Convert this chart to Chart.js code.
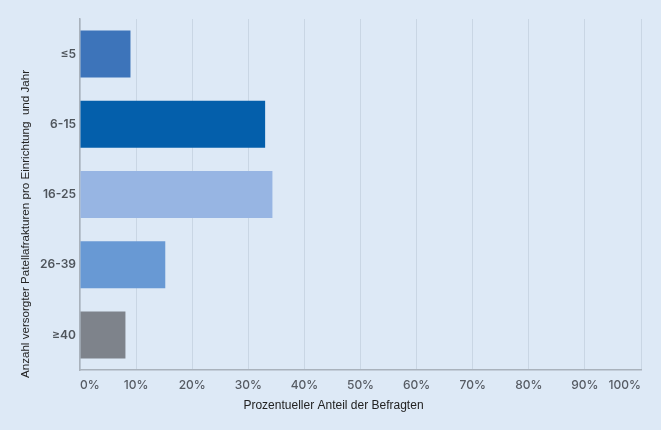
<!DOCTYPE html>
<html>
<head>
<meta charset="utf-8">
<script src="https://cdn.jsdelivr.net/npm/chart.js@4"></script>
<style>
  html, body { margin: 0; padding: 0; background: #dde9f6; }
  #wrap { width: 661px; height: 430px; position: relative; }
</style>
</head>
<body>
<div id="wrap"><canvas id="c" width="661" height="430"></canvas></div>
<script>
const categories = ["≤5", "6-15", "16-25", "26-39", "≥40"];
const shares = [9, 33, 34.3, 15.2, 8.1];
const barColors = ["#3d74ba", "#045fab", "#97b5e3", "#6899d4", "#7e838b"];
const xTickValues = [0, 10, 20, 30, 40, 50, 60, 70, 80, 90, 100];
const xTitle = "Prozentueller Anteil der Befragten";
const yTitle = "Anzahl versorgter Patellafrakturen pro Einrichtung  und Jahr";

const axisTitles = {
  id: 'axisTitles',
  afterDraw(chart) {
    const ctx = chart.ctx;
    const area = chart.chartArea;
    ctx.save();
    ctx.fillStyle = '#222';
    ctx.textAlign = 'center';
    ctx.textBaseline = 'middle';
    ctx.font = '12px "Liberation Sans", Arial, sans-serif';
    ctx.fillText(xTitle, chart.width / 2 + 3, area.bottom + 36);
    ctx.font = '11.6px "Liberation Sans", Arial, sans-serif';
    ctx.translate(26, chart.height / 2 + 9);
    ctx.rotate(-Math.PI / 2);
    ctx.fillText(yTitle, 0, 0);
    ctx.restore();
  }
};

new Chart(document.getElementById('c'), {
  type: 'bar',
  data: {
    labels: categories,
    datasets: [{
      data: shares,
      backgroundColor: barColors,
      borderWidth: 0,
      barPercentage: 0.67,
      categoryPercentage: 1
    }]
  },
  options: {
    indexAxis: 'y',
    responsive: false,
    animation: false,
    layout: { padding: { top: 19, right: 20, left: 0, bottom: 0 } },
    plugins: { legend: { display: false }, tooltip: { enabled: false } },
    scales: {
      x: {
        min: 0, max: 100,
        afterBuildTicks(scale) { scale.ticks = xTickValues.map(v => ({ value: v })); },
        afterFit(scale) { scale.height = 60; },
        grid: { color: '#c9d6e4', lineWidth: 1, drawTicks: false },
        border: { display: true, color: '#a9b2bc', width: 1.5 },
        ticks: {
          align: 'inner',
          padding: 8,
          color: '#565b63',
          font: { family: 'Inter', size: 12, weight: '500' },
          callback: v => v + '%'
        }
      },
      y: {
        afterFit(scale) { scale.width = 80; },
        grid: { display: false, drawTicks: false },
        border: { display: true, color: '#a9b2bc', width: 1.5 },
        ticks: {
          padding: 4,
          color: '#4f555c',
          font: { family: 'Inter', size: 12, weight: '600' }
        }
      }
    }
  },
  plugins: [axisTitles]
});
</script>
</body>
</html>
